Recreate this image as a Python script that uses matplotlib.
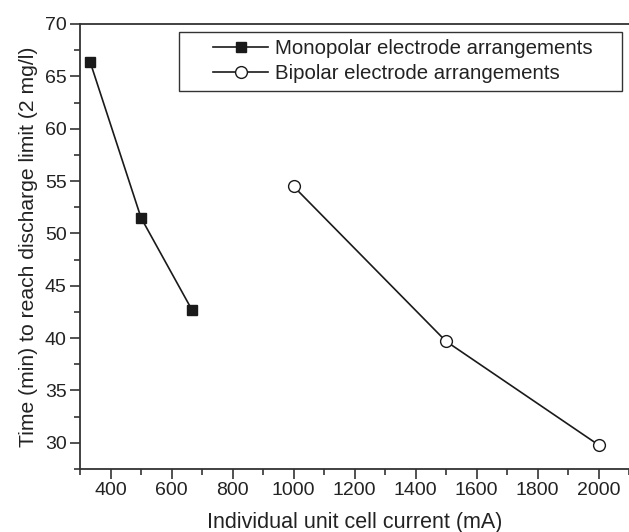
import matplotlib.pyplot as plt
from matplotlib.patches import Rectangle
from matplotlib.ticker import MultipleLocator

plt.rcParams['font.family'] = ['Liberation Sans', 'DejaVu Sans']

# Monopolar / Bipolar electrode arrangements
mono_current = [333, 500, 667]
mono_time = [66.4, 51.5, 42.7]
bi_current = [1000, 1500, 2000]
bi_time = [54.5, 39.7, 29.8]

fig = plt.figure(figsize=(6.29, 5.32), dpi=100)
ax = fig.add_axes([80 / 629, 63 / 532, 549 / 629, 445 / 532])

ink = '#1a1a1a'
ax.plot(mono_current, mono_time, '-', color=ink, lw=1.2, marker='s', ms=7.5,
        mfc=ink, mec=ink, label='Monopolar electrode arrangements')
ax.plot(bi_current, bi_time, '-', color=ink, lw=1.2, marker='o', ms=8.5,
        mfc='white', mec=ink, mew=1.0, label='Bipolar electrode arrangements')

ax.set_xlim(300, 2100)
ax.set_ylim(27.5, 70)
ax.xaxis.set_major_locator(MultipleLocator(200))
ax.xaxis.set_minor_locator(MultipleLocator(100))
ax.yaxis.set_major_locator(MultipleLocator(5))
ax.yaxis.set_minor_locator(MultipleLocator(2.5))
ax.set_xticks(range(400, 2001, 200))

ax.spines['right'].set_visible(False)
for s in ax.spines.values():
    s.set_linewidth(1.3)
    s.set_color('#333333')
ax.tick_params(which='both', direction='out', colors='#333333', width=1.2,
               labelsize=14, labelcolor='#222222', top=False, right=False, pad=2.5)
ax.tick_params(which='major', length=7)
ax.tick_params(which='minor', length=4)

ax.set_xlabel('Individual unit cell current (mA)', fontsize=15.5, color='#222222', labelpad=9)
ax.set_ylabel('Time (min) to reach discharge limit (2 mg/l)', fontsize=15.2, color='#222222', labelpad=5)

# legend frame drawn separately so the entries can sit centred in it
x0, y0 = (179 - 80) / 549, (469 - 91) / 445
w, h = (622 - 179) / 549, 59 / 445
ax.add_patch(Rectangle((x0, y0), w, h, transform=ax.transAxes, fill=True, fc='white',
                       ec='#333333', lw=1.0, zorder=4))
leg = ax.legend(loc='center', bbox_to_anchor=(x0 + w / 2 + 0.004, y0 + h / 2 + 0.001),
                fontsize=14.7, frameon=False, handlelength=2.7,
                handletextpad=0.3, borderpad=0, labelspacing=0.3, borderaxespad=0)
leg.set_zorder(5)
for t in leg.get_texts():
    t.set_color('#222222')

fig.savefig('out.png', dpi=100)
